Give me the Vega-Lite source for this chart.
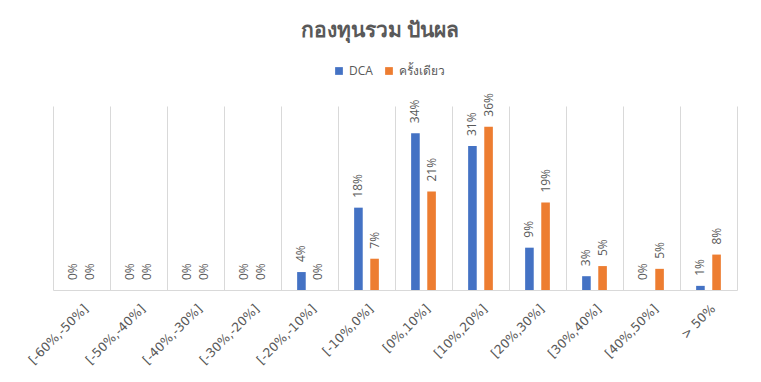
{
  "$schema": "https://vega.github.io/schema/vega-lite/v6.json",
  "width": 684,
  "height": 184,
  "autosize": "none",
  "padding": {"left": 53, "top": 106, "right": 24, "bottom": 92},
  "background": "white",
  "title": {
    "text": "กองทุนรวม ปันผล",
    "fontSize": 21,
    "fontWeight": "bold",
    "color": "#595959",
    "font": "Noto Sans",
    "anchor": "middle",
    "dx": -15,
    "offset": 24
  },
  "config": {
    "view": {"stroke": null},
    "font": "Open Sans"
  },
  "data": {
    "values": [
      {"range": "[-60%,-50%]", "type": "DCA", "value": 0},
      {"range": "[-60%,-50%]", "type": "ครั้งเดียว", "value": 0},
      {"range": "[-50%,-40%]", "type": "DCA", "value": 0},
      {"range": "[-50%,-40%]", "type": "ครั้งเดียว", "value": 0},
      {"range": "[-40%,-30%]", "type": "DCA", "value": 0},
      {"range": "[-40%,-30%]", "type": "ครั้งเดียว", "value": 0},
      {"range": "[-30%,-20%]", "type": "DCA", "value": 0},
      {"range": "[-30%,-20%]", "type": "ครั้งเดียว", "value": 0},
      {"range": "[-20%,-10%]", "type": "DCA", "value": 0.039},
      {"range": "[-20%,-10%]", "type": "ครั้งเดียว", "value": 0},
      {"range": "[-10%,0%]", "type": "DCA", "value": 0.179},
      {"range": "[-10%,0%]", "type": "ครั้งเดียว", "value": 0.068},
      {"range": "[0%,10%]", "type": "DCA", "value": 0.341},
      {"range": "[0%,10%]", "type": "ครั้งเดียว", "value": 0.214},
      {"range": "[10%,20%]", "type": "DCA", "value": 0.313},
      {"range": "[10%,20%]", "type": "ครั้งเดียว", "value": 0.355},
      {"range": "[20%,30%]", "type": "DCA", "value": 0.092},
      {"range": "[20%,30%]", "type": "ครั้งเดียว", "value": 0.19},
      {"range": "[30%,40%]", "type": "DCA", "value": 0.03},
      {"range": "[30%,40%]", "type": "ครั้งเดียว", "value": 0.052},
      {"range": "[40%,50%]", "type": "DCA", "value": 0},
      {"range": "[40%,50%]", "type": "ครั้งเดียว", "value": 0.046},
      {"range": "> 50%", "type": "DCA", "value": 0.009},
      {"range": "> 50%", "type": "ครั้งเดียว", "value": 0.077}
    ]
  },
  "encoding": {
    "x": {
      "field": "range",
      "type": "nominal",
      "sort": null,
      "title": null,
      "scale": {"paddingInner": 0, "paddingOuter": 0},
      "axis": {
        "tickBand": "extent",
        "grid": true,
        "gridColor": "#d9d9d9",
        "domainColor": "#d9d9d9",
        "ticks": false,
        "labelAngle": -45,
        "labelFont": "DejaVu Sans",
        "labelFontSize": 12.5,
        "labelColor": "#595959",
        "labelPadding": 12
      }
    },
    "xOffset": {
      "field": "type",
      "type": "nominal",
      "scale": {"domain": ["DCA", "ครั้งเดียว"], "paddingInner": 0.467, "paddingOuter": 1.133}
    },
    "y": {
      "field": "value",
      "type": "quantitative",
      "scale": {"domain": [0, 0.4]},
      "axis": null
    },
    "color": {
      "field": "type",
      "type": "nominal",
      "scale": {"domain": ["DCA", "ครั้งเดียว"], "range": ["#4472C4", "#ED7D31"]},
      "legend": {
        "title": null,
        "orient": "none",
        "direction": "horizontal",
        "legendX": 280,
        "legendY": -41,
        "symbolType": "square",
        "symbolSize": 60,
        "symbolStrokeWidth": 0,
        "labelFontSize": 12,
        "labelColor": "#595959",
        "columnPadding": 10,
        "labelOffset": 4
      }
    }
  },
  "layer": [
    {"mark": {"type": "bar"}},
    {
      "mark": {"type": "text", "angle": 270, "align": "left", "baseline": "middle", "dx": 10, "fontSize": 12, "color": "#595959"},
      "encoding": {
        "text": {"field": "value", "type": "quantitative", "format": ".0%"},
        "color": {"value": "#595959"}
      }
    }
  ]
}
